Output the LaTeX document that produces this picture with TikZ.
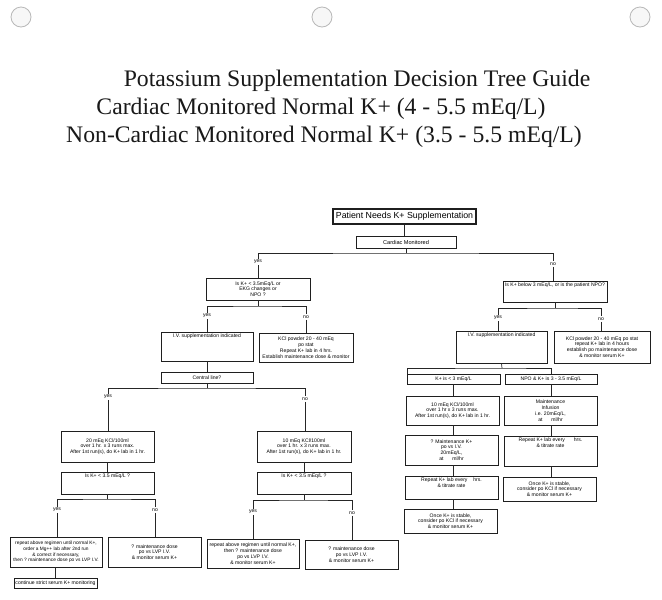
\documentclass[tikz,border=0pt]{standalone}
\usepackage{fontspec}
\setmainfont{Liberation Serif}
\newfontfamily\arial{Liberation Sans}
\newcommand{\topst}{\rule{0pt}{5.6pt}}
\newcommand{\mybox}[7]{%
  \pgfmathsetmacro{\myBW}{#4-#2}%
  \pgfmathsetmacro{\myBH}{#5-#3}%
  \node[box] (#1) at ({(#2+#4)/2},{(#3+#5)/2}) {\parbox[c][\myBH pt][#6]{\myBW pt}{\centering #7}};%
}
\tikzset{
  box/.style={draw=black!88, line width=0.85pt, fill=white, inner sep=0pt, text=black,
    font=\arial\fontsize{5.1}{5.8}\selectfont},
  lbl/.style={font=\arial\fontsize{5.1}{6}\selectfont, inner sep=1.2pt, text=black},
  conn/.style={draw=black!85, line width=0.7pt},
  title/.style={anchor=base, inner sep=0pt, text=black!90, font=\fontsize{23.7}{28}\selectfont},
  punch/.style={draw=black!28, line width=0.8pt, fill=black!3}
}
\begin{document}
\begin{tikzpicture}[x=1pt,y=-1pt]
\fill[white] (0,0) rectangle (662,600);
\useasboundingbox (0,0) rectangle (662,600);
% hole punches
\foreach \cx in {21,322,640} \draw[punch] (\cx,17) circle[radius=10];
% title
\node[title] (t1) at (357,86) {Potassium Supplementation Decision Tree Guide};
\node[title] (t2) at (321,114) {Cardiac Monitored Normal K+ (4 - 5.5 mEq/L)};
\node[title] (t3) at (324,142) {Non-Cardiac Monitored Normal K+ (3.5 - 5.5 mEq/L)};
% top
\node[box, line width=1.3pt, minimum width=143pt, minimum height=15pt,
  font=\arial\fontsize{8.8}{10}\selectfont] (start) at (404.5,216.5) {Patient Needs K+ Supplementation};
\node[box, minimum width=100pt, minimum height=12pt,
  font=\arial\fontsize{5.6}{6}\selectfont] (cardiac) at (406,242) {Cardiac Monitored};
% left (cardiac) side
\mybox{q1}{206}{278}{310}{300}{c}{Is K+ < 3.5mEq/L or\\EKG changes or\\NPO ?}
\mybox{iv1}{161}{332}{253}{361}{t}{\topst I.V. supplementation indicated}
\mybox{kcl1}{259}{333}{353}{362}{c}{KCl powder 20 - 40 mEq\\po stat\\Repeat K+ lab in 4 hrs.\\Establish maintenance dose \& monitor}
\mybox{central}{161}{372}{253}{383}{c}{Central line?}
\mybox{mEqA}{61}{431}{154}{462}{c}{20 mEq KCl/100ml\\over 1 hr. x 3 runs max.\\After 1st run(s), do K+ lab in 1 hr.}
\mybox{qA}{61}{472}{154}{494}{t}{\topst Is K+ < 3.5 mEq/L ?}
\mybox{repA}{10}{537}{102}{567}{c}{\fontsize{4.8}{5.8}\selectfont repeat above regimen until normal K+,\\order a Mg++ lab after 2nd run\\\& correct if necessary,\\then ? maintenance dose po vs LVP I.V.}
\mybox{mtA}{108}{537}{201}{567}{c}{? maintenance dose\\po vs LVP I.V.\\\& monitor serum K+}
\mybox{cont}{14}{578}{97}{588}{c}{continue strict serum K+ monitoring}
\mybox{mEqB}{257}{431}{351}{462}{c}{10 mEq KCl/100ml\\over 1 hr. x 3 runs max.\\After 1st run(s), do K+ lab in 1 hr.}
\mybox{qB}{257}{472}{351}{494}{t}{\topst Is K+ < 3.5 mEq/L ?}
\mybox{repB}{207}{539}{299}{568}{c}{repeat above regimen until normal K+,\\then ? maintenance dose\\po vs LVP I.V.\\\& monitor serum K+}
\mybox{mtB}{305}{540}{398}{569}{c}{? maintenance dose\\po vs LVP I.V.\\\& monitor serum K+}
% right (non-cardiac) side
\mybox{q3}{503}{281}{607}{302}{t}{\topst Is K+ below 3 mEq/L, or is the patient NPO?}
\mybox{iv2}{456}{331}{547}{363}{t}{\topst I.V. supplementation indicated}
\mybox{kcl2}{554}{331}{650}{363}{c}{KCl powder 20 - 40 mEq po stat\\repeat K+ lab in 4 hours\\establish po maintenance dose\\\& monitor serum K+}
\mybox{kA}{407}{374}{500}{384}{c}{K+ is < 3 mEq/L}
\mybox{npo}{505}{374}{597}{384}{c}{NPO \& K+ is 3 - 3.5 mEq/L}
\mybox{mEqC}{406}{396}{499}{425}{c}{10 mEq KCl/100ml\\over 1 hr x 3 runs max.\\After 1st run(s), do K+ lab in 1 hr.}
\mybox{inf}{504}{396}{597}{425}{c}{Maintenance\\Infusion\\i.e. 20mEq/L,\\at \hspace{6pt} ml/hr}
\mybox{mtK}{405}{435}{498}{465}{c}{? Maintenance K+\\po vs I.V.\\20mEq/L,\\at \hspace{6pt} ml/hr}
\mybox{repR}{504}{436}{597}{466}{t}{\topst Repeat K+ lab every \hspace{6pt} hrs.\\\& titrate rate}
\mybox{repL}{405}{476}{498}{499}{t}{\topst Repeat K+ lab every \hspace{3pt} hrs.\\\& titrate rate}
\mybox{stR}{503}{477}{596}{501}{c}{Once K+ is stable,\\consider po KCl if necessary\\\& monitor serum K+}
\mybox{stL}{404}{509}{497}{533}{c}{Once K+ is stable,\\consider po KCl if necessary\\\& monitor serum K+}
% labels
\node[lbl] (yes1) at (258,262) {yes};
\node[lbl] (no1) at (553,264) {no};
\node[lbl] (yes2) at (207,316) {yes};
\node[lbl] (no2) at (306,317) {no};
\node[lbl] (yes3) at (108,397) {yes};
\node[lbl] (no3) at (305,399) {no};
\node[lbl] (yes4) at (57,510) {yes};
\node[lbl] (no4) at (155,510) {no};
\node[lbl] (yes5) at (253,512) {yes};
\node[lbl] (no5) at (352,513) {no};
\node[lbl] (yes6) at (498,318) {yes};
\node[lbl] (no6) at (601,319) {no};
% junctions
\coordinate (j1) at (406,253);
\coordinate (j2) at (258,306);
\coordinate (j3) at (207,388);
\coordinate (j4) at (107.5,499);
\coordinate (j5) at (304,500);
\coordinate (j6) at (555,308);
\coordinate (j7) at (502,368);
% connectors
\draw[conn] (start.south) -- (start.south |- cardiac.north);
\draw[conn] (cardiac.south) -- (j1);
\draw[conn] (yes1.north) |- (j1) -| (no1.north);
\draw[conn] (yes1.south) -- (yes1.south |- q1.north);
\draw[conn] (no1.south) -- (no1.south |- q3.north);
\draw[conn] (q1.south) -- (j2);
\draw[conn] (yes2.north) |- (j2) -| (no2.north);
\draw[conn] (yes2.south) -- (yes2.south |- iv1.north);
\draw[conn] (no2.south) -- (no2.south |- kcl1.north);
\draw[conn] (iv1.south) -- (central.north);
\draw[conn] (central.south) -- (j3);
\draw[conn] (yes3.north) |- (j3) -| (no3.north);
\draw[conn] (yes3.south) -- (yes3.south |- mEqA.north);
\draw[conn] (no3.south) -- (no3.south |- mEqB.north);
\draw[conn] (mEqA.south) -- (qA.north);
\draw[conn] (qA.south) -- (j4);
\draw[conn] (yes4.north) |- (j4) -| (no4.north);
\draw[conn] (yes4.south) -- (yes4.south |- repA.north);
\draw[conn] (no4.south) -- (no4.south |- mtA.north);
\draw[conn] (repA.south -| cont.north) -- (cont.north);
\draw[conn] (mEqB.south) -- (qB.north);
\draw[conn] (qB.south) -- (j5);
\draw[conn] (yes5.north) |- (j5) -| (no5.north);
\draw[conn] (yes5.south) -- (yes5.south |- repB.north);
\draw[conn] (no5.south) -- (no5.south |- mtB.north);
\draw[conn] (q3.south) -- (j6);
\draw[conn] (yes6.north) |- (j6) -| (no6.north);
\draw[conn] (yes6.south) -- (yes6.south |- iv2.north);
\draw[conn] (no6.south) -- (no6.south |- kcl2.north);
\draw[conn] (iv2.south) -- (j7);
\draw[conn] ([xshift=1pt]kA.north west) |- (j7) -| (npo.north);
\draw[conn] (kA.south) -- (kA.south |- mEqC.north);
\draw[conn] (kA.south |- mEqC.south) -- (kA.south |- mtK.north);
\draw[conn] (kA.south |- mtK.south) -- (kA.south |- repL.north);
\draw[conn] (kA.south |- repL.south) -- (kA.south |- stL.north);
\draw[conn] (npo.south) -- (npo.south |- inf.north);
\draw[conn] (npo.south |- inf.south) -- (npo.south |- repR.north);
\draw[conn] (npo.south |- repR.south) -- (npo.south |- stR.north);
\end{tikzpicture}
\end{document}
